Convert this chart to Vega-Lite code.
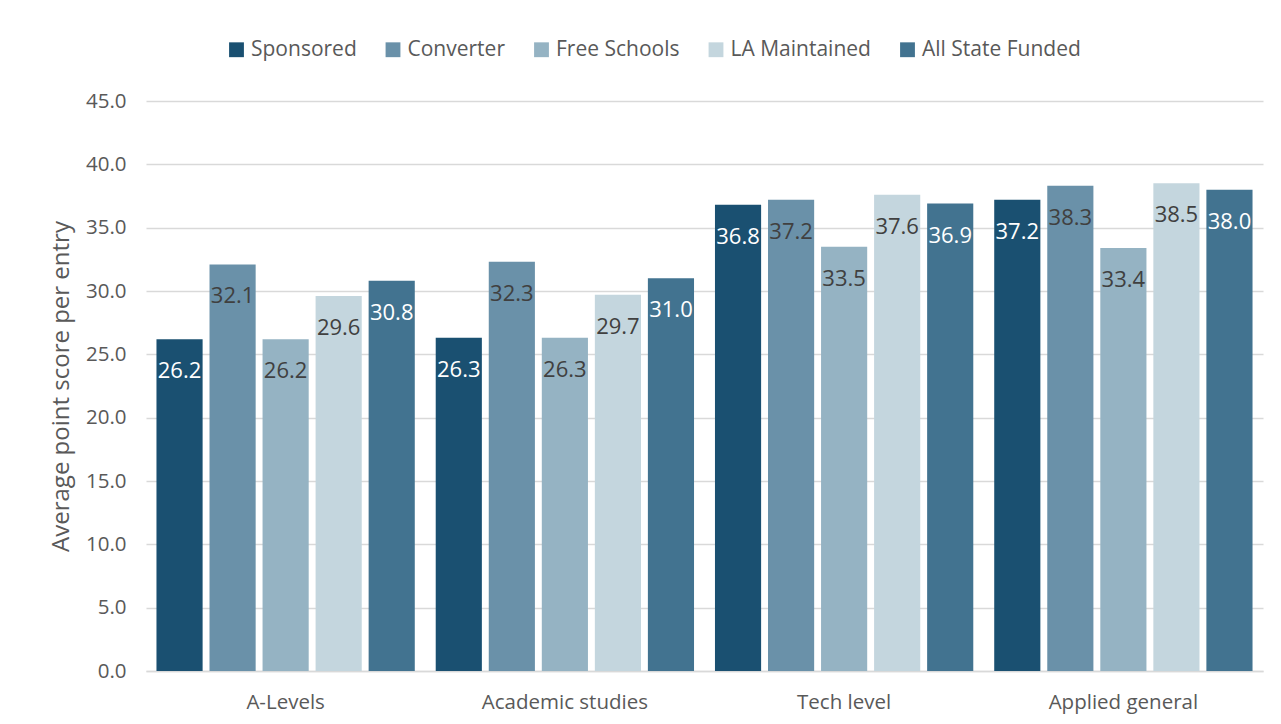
{
  "$schema": "https://vega.github.io/schema/vega-lite/v6.json",
  "autosize": "none",
  "width": 1117,
  "height": 570,
  "padding": {"left": 146, "top": 101, "right": 18, "bottom": 53},
  "background": "white",
  "config": {
    "font": "Open Sans",
    "view": {"stroke": null},
    "axis": {"labelColor": "#595959", "titleColor": "#595959", "labelFont": "Open Sans", "titleFont": "Open Sans"}
  },
  "data": {
    "values": [
      {"cat": "A-Levels", "type": "Sponsored", "v": 26.2},
      {"cat": "A-Levels", "type": "Converter", "v": 32.1},
      {"cat": "A-Levels", "type": "Free Schools", "v": 26.2},
      {"cat": "A-Levels", "type": "LA Maintained", "v": 29.6},
      {"cat": "A-Levels", "type": "All State Funded", "v": 30.8},
      {"cat": "Academic studies", "type": "Sponsored", "v": 26.3},
      {"cat": "Academic studies", "type": "Converter", "v": 32.3},
      {"cat": "Academic studies", "type": "Free Schools", "v": 26.3},
      {"cat": "Academic studies", "type": "LA Maintained", "v": 29.7},
      {"cat": "Academic studies", "type": "All State Funded", "v": 31.0},
      {"cat": "Tech level", "type": "Sponsored", "v": 36.8},
      {"cat": "Tech level", "type": "Converter", "v": 37.2},
      {"cat": "Tech level", "type": "Free Schools", "v": 33.5},
      {"cat": "Tech level", "type": "LA Maintained", "v": 37.6},
      {"cat": "Tech level", "type": "All State Funded", "v": 36.9},
      {"cat": "Applied general", "type": "Sponsored", "v": 37.2},
      {"cat": "Applied general", "type": "Converter", "v": 38.3},
      {"cat": "Applied general", "type": "Free Schools", "v": 33.4},
      {"cat": "Applied general", "type": "LA Maintained", "v": 38.5},
      {"cat": "Applied general", "type": "All State Funded", "v": 38.0}
    ]
  },
  "encoding": {
    "x": {
      "field": "cat", "type": "nominal", "sort": null,
      "scale": {"paddingInner": 0.075, "paddingOuter": 0.0375},
      "axis": {"title": null, "labelAngle": 0, "labelFontSize": 20.5, "labelPadding": 21, "ticks": false, "domainColor": "#d9d9d9", "domainWidth": 1.5}
    },
    "xOffset": {
      "field": "type", "type": "nominal", "sort": ["Sponsored", "Converter", "Free Schools", "LA Maintained", "All State Funded"],
      "scale": {"paddingInner": 0.13, "paddingOuter": 0}
    },
    "y": {
      "field": "v", "type": "quantitative",
      "scale": {"domain": [0, 45], "nice": false},
      "axis": {"title": "Average point score per entry", "titleFontSize": 24, "titleFontWeight": "normal", "titlePadding": 12, "format": ".1f", "values": [0, 5, 10, 15, 20, 25, 30, 35, 40, 45], "labelOverlap": false, "labelFontSize": 20.5, "labelPadding": 20, "ticks": false, "domain": false, "gridColor": "#d9d9d9", "gridWidth": 1.5}
    }
  },
  "layer": [
    {
      "mark": {"type": "bar"},
      "encoding": {
        "color": {
          "field": "type", "type": "nominal",
          "sort": ["Sponsored", "Converter", "Free Schools", "LA Maintained", "All State Funded"],
          "scale": {"domain": ["Sponsored", "Converter", "Free Schools", "LA Maintained", "All State Funded"], "range": ["#1a5071", "#6a91a9", "#95b3c3", "#c4d6de", "#427390"]},
          "legend": {"title": null, "orient": "none", "legendX": 80, "legendY": -62, "direction": "horizontal", "columns": 5, "symbolType": "square", "symbolSize": 220, "symbolStrokeWidth": 0, "labelFontSize": 21, "labelColor": "#595959", "labelFont": "Open Sans", "columnPadding": 25.5, "symbolOffset": 0, "labelOffset": 4}
        }
      }
    },
    {
      "mark": {"type": "text", "baseline": "top", "dy": 22, "fontSize": 22},
      "encoding": {
        "text": {"field": "v", "type": "quantitative", "format": ".1f"},
        "color": {
          "condition": {"test": "datum.type === 'Sponsored' || datum.type === 'All State Funded'", "value": "white"},
          "value": "#404040"
        }
      }
    }
  ]
}
